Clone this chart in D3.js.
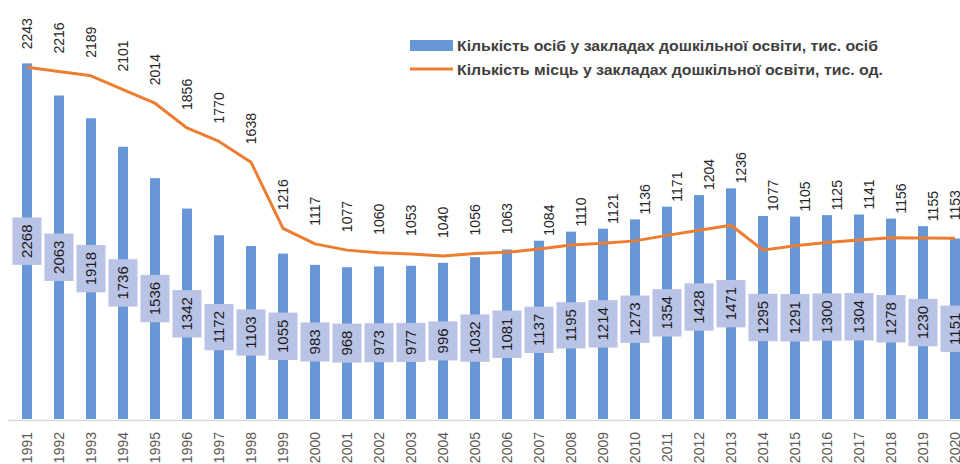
<!DOCTYPE html>
<html>
<head>
<meta charset="utf-8">
<script src="https://cdn.jsdelivr.net/npm/d3@7"></script>
<style>
  body { margin: 0; background: #fff; }
  text { font-family: "Liberation Sans", Arial, sans-serif; }
</style>
</head>
<body>
<div id="chart"></div>
<script>
// years on the axis
var years = ["1991","1992","1993","1994","1995","1996","1997","1998","1999","2000",
  "2001","2002","2003","2004","2005","2006","2007","2008","2009","2010",
  "2011","2012","2013","2014","2015","2016","2017","2018","2019","2020"];

// persons in preschool institutions, thousand (bars)
var persons = [2268, 2063, 1918, 1736, 1536, 1342, 1172, 1103, 1055, 983,
  968, 973, 977, 996, 1032, 1081, 1137, 1195, 1214, 1273,
  1354, 1428, 1471, 1295, 1291, 1300, 1304, 1278, 1230, 1151];

// places in preschool institutions, thousand (line)
var places = [2243, 2216, 2189, 2101, 2014, 1856, 1770, 1638, 1216, 1117,
  1077, 1060, 1053, 1040, 1056, 1063, 1084, 1110, 1121, 1136,
  1171, 1204, 1236, 1077, 1105, 1125, 1141, 1156, 1155, 1153];

var legendNames = [
  "Кількість осіб у закладах дошкільної освіти, тис. осіб",
  "Кількість місць у закладах дошкільної освіти, тис. од."
];

var W = 960, H = 464;
var baseY = 419;
var barColor = "#6797d6";
var lineColor = "#ed7d31";

var svg = d3.select("#chart").append("svg")
  .attr("width", W)
  .attr("height", H);

var x = d3.scaleBand()
  .domain(years)
  .range([11, 971])
  .paddingInner(0.6875)
  .paddingOuter(0.34375);

var y = d3.scaleLinear()
  .domain([0, 2500])
  .range([baseY, 27]);

function cx(i) { return x(years[i]) + x.bandwidth() / 2; }

// bars
svg.selectAll(".bar")
  .data(persons)
  .enter().append("rect")
  .attr("class", "bar")
  .attr("x", function(d, i) { return x(years[i]); })
  .attr("y", function(d) { return y(d); })
  .attr("width", x.bandwidth())
  .attr("height", function(d) { return baseY - y(d); })
  .style("fill", barColor);

// axis line
svg.append("line")
  .attr("x1", 8).attr("x2", W)
  .attr("y1", baseY + 1.5).attr("y2", baseY + 1.5)
  .style("stroke", "#d9d9d9")
  .style("stroke-width", 1.5);

// year labels
svg.selectAll(".year")
  .data(years)
  .enter().append("text")
  .attr("class", "year")
  .attr("transform", function(d, i) {
    return "translate(" + cx(i) + "," + (baseY + 13) + ")rotate(-90)";
  })
  .attr("text-anchor", "end")
  .attr("dy", "0.35em")
  .style("font-size", "14px")
  .style("fill", "#595959")
  .text(function(d) { return d; });

// line
var line = d3.line()
  .x(function(d, i) { return cx(i); })
  .y(function(d) { return y(d); });

svg.append("path")
  .datum(places)
  .attr("d", line)
  .style("fill", "none")
  .style("stroke", lineColor)
  .style("stroke-width", 3)
  .style("stroke-linejoin", "round");

// box labels for bars (middle of each bar)
var boxes = svg.selectAll(".box")
  .data(persons)
  .enter().append("g")
  .attr("class", "box")
  .attr("transform", function(d, i) {
    return "translate(" + cx(i) + "," + ((y(d) + baseY) / 2) + ")";
  });

boxes.append("rect")
  .style("fill", "#b8c3e6");

boxes.append("text")
  .attr("transform", "rotate(-90)")
  .attr("text-anchor", "middle")
  .attr("dy", "0.36em")
  .style("font-size", "15px")
  .style("fill", "#1a1a1a")
  .text(function(d) { return d; });

boxes.each(function() {
  var g = d3.select(this);
  var len = g.select("text").node().getComputedTextLength();
  g.select("rect")
    .attr("x", -14.5)
    .attr("y", -len / 2 - 7)
    .attr("width", 29)
    .attr("height", len + 14);
});

// labels for the line: above the higher of bar top / line point
svg.selectAll(".plabel")
  .data(places)
  .enter().append("text")
  .attr("class", "plabel")
  .attr("transform", function(d, i) {
    var yl = y(d), yb = y(persons[i]);
    var px = cx(i), py;
    if (yb < yl - 8) {
      px += 10;
      py = yb - 5;
    } else {
      py = yl - 18;
    }
    return "translate(" + px + "," + py + ")rotate(-90)";
  })
  .attr("text-anchor", "start")
  .attr("dy", "0.35em")
  .style("font-size", "14px")
  .style("fill", "#262626")
  .text(function(d) { return d; });

// legend
var legend = svg.append("g").attr("class", "legend");

legend.append("rect")
  .attr("x", 410).attr("y", 40)
  .attr("width", 43).attr("height", 11)
  .style("fill", barColor);

legend.append("line")
  .attr("x1", 410).attr("x2", 453)
  .attr("y1", 69).attr("y2", 69)
  .style("stroke", lineColor)
  .style("stroke-width", 3);

legend.selectAll(".ltext")
  .data(legendNames)
  .enter().append("text")
  .attr("class", "ltext")
  .attr("x", 457)
  .attr("y", function(d, i) { return 46 + i * 24; })
  .attr("dy", "0.35em")
  .attr("textLength", function(d, i) { return i === 0 ? 421 : 426; })
  .attr("lengthAdjust", "spacingAndGlyphs")
  .style("font-size", "14px")
  .style("font-weight", "bold")
  .style("fill", "#404040")
  .text(function(d) { return d; });
</script>
</body>
</html>
